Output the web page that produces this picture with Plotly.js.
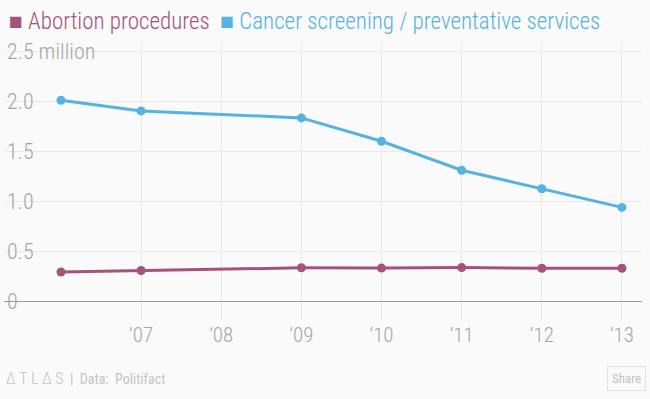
<!DOCTYPE html>
<html>
<head>
<meta charset="utf-8">
<script src="https://cdn.plot.ly/plotly-3.0.1.min.js"></script>
<style>html,body{margin:0;padding:0;background:#fafafa;}#chart{width:650px;height:399px;}</style>
</head>
<body>
<div id="chart"></div>
<script>
// Values in millions
const years = [2006, 2007, 2009, 2010, 2011, 2012, 2013];
const abortion = [0.290, 0.305, 0.332, 0.329, 0.334, 0.327, 0.328];
const cancer = [2.007, 1.901, 1.831, 1.597, 1.308, 1.122, 0.936];
const xTickVals = [2007, 2008, 2009, 2010, 2011, 2012, 2013];
const xTickText = ["\u201907", "\u201908", "\u201909", "\u201910", "\u201911", "\u201912", "\u201913"];
const yTickVals = [0, 0.5, 1.0, 1.5, 2.0, 2.5];
const yTickText = ["0", "0.5", "1.0", "1.5", "2.0", "2.5 million"];
const seriesNames = ["Abortion procedures", "Cancer screening / preventative services"];

const cAb = "#a4537f", cCa = "#55b3e3";
const bg = "#fafafa";
const font = "Roboto Condensed, Liberation Sans, sans-serif";
const L = 4, W = 650 - 4 - 8;

const traces = [
  {x: years, y: abortion, name: seriesNames[0], mode: "lines+markers",
   line: {color: cAb, width: 3}, marker: {color: cAb, size: 9}},
  {x: years, y: cancer, name: seriesNames[1], mode: "lines+markers",
   line: {color: cCa, width: 3}, marker: {color: cCa, size: 9}}
];

const layout = {
  width: 650, height: 399,
  margin: {l: L, r: 8, t: 42, b: 79},
  paper_bgcolor: bg, plot_bgcolor: bg,
  showlegend: false,
  font: {family: font, color: "#a8a8a8", weight: 300},
  xaxis: {
    range: [2005.289, 2013.25],
    tickvals: xTickVals, ticktext: xTickText,
    showgrid: true, gridcolor: "#e9e9e9", gridwidth: 1,
    zeroline: false, showline: false, ticks: "",
    tickfont: {size: 21, color: "#a6a6a6", family: font, weight: 300},
    fixedrange: true
  },
  yaxis: {
    range: [-0.19, 2.59],
    tickvals: yTickVals, ticktext: yTickText,
    ticklabelposition: "inside", ticklabeloverflow: "allow",
    showgrid: true, gridcolor: "#e9e9e9", gridwidth: 1,
    zeroline: true, zerolinecolor: "#9a9a9a", zerolinewidth: 1,
    showline: false, ticks: "",
    tickfont: {size: 22, color: "#a6a6a6", family: font, weight: 300},
    fixedrange: true
  },
  shapes: [
    {type: "rect", layer: "between", xref: "paper", yref: "y", x0: 0, x1: (40 - L) / W, y0: 0.3, y1: 2.2, fillcolor: bg, line: {width: 0}},
    {type: "rect", layer: "between", xref: "paper", yref: "y", x0: 0, x1: (104 - L) / W, y0: 2.4, y1: 2.6, fillcolor: bg, line: {width: 0}},
    {type: "rect", layer: "between", xref: "paper", yref: "y", x0: 0, x1: (26 - L) / W, y0: -0.05, y1: 0.05, fillcolor: bg, line: {width: 0}}
  ],
  annotations: [
    {xref: "paper", yref: "paper", x: (7 - L) / W, y: 1 + 21/278, xanchor: "left", yanchor: "middle", showarrow: false,
     font: {size: 23, family: font, weight: 300},
     text: '<span style="color:' + cAb + '">\u25A0 ' + seriesNames[0] + '</span>  <span style="color:' + cCa + '">\u25A0 ' + seriesNames[1] + '</span>'},
    {xref: "paper", yref: "paper", x: (4 - L) / W, y: -58/278, xanchor: "left", yanchor: "middle", showarrow: false,
     font: {size: 14, family: font, color: "#c4c4c4", weight: 400},
     text: '<span style="font-size:16px;font-weight:300">\u0394 T L \u0394 S</span>\u00a0 |\u00a0 Data:\u00a0 Politifact'},
    {xref: "paper", yref: "paper", x: 1 + 4 / W, y: -58/278, xanchor: "right", yanchor: "middle", showarrow: false,
     font: {size: 13, family: font, color: "#c2c2c2", weight: 400},
     text: "Share", bordercolor: "#e2e2e2", borderwidth: 1, borderpad: 4, bgcolor: bg}
  ]
};

Plotly.newPlot("chart", traces, layout, {displayModeBar: false, staticPlot: true});
</script>
</body>
</html>
